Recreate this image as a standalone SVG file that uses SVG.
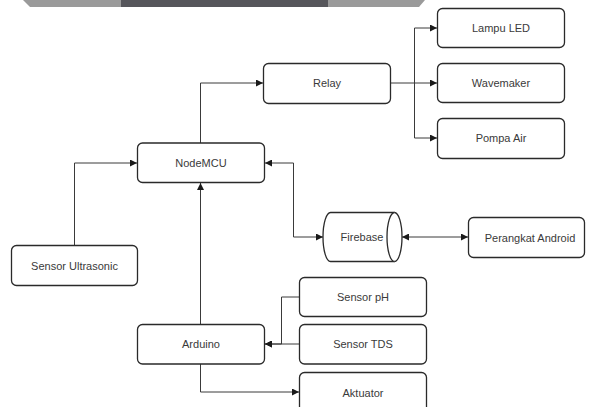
<svg xmlns="http://www.w3.org/2000/svg" width="589" height="407" viewBox="0 0 589 407">
<style>
.box{fill:#fff;stroke:#2a2a2a;stroke-width:1.3}
.lbl{font-family:"Liberation Sans",Arial,sans-serif;font-size:11px;fill:#3a3a3a;text-anchor:middle;dominant-baseline:central}
.con{fill:none;stroke:#3a3a3a;stroke-width:1}
</style>
<defs>
<marker id="arr" viewBox="0 0 7 7" refX="7" refY="3.5" markerWidth="7" markerHeight="7" markerUnits="userSpaceOnUse" orient="auto-start-reverse">
<path d="M0,0 L7,3.5 L0,7 Z" fill="#1a1a1a"/>
</marker>
</defs>
<g id="banner">
<polygon points="23,0 425,0 419,7 30,7" fill="#9a9a9a"/>
<rect x="121" y="0" width="207" height="7" fill="#56565b"/>
</g>
<g id="connectors">
<path class="con" d="M200.5 143 V83 H263" marker-end="url(#arr)"/>
<path class="con" d="M390.5 83 H437" marker-end="url(#arr)"/>
<path class="con" d="M414.5 83 V28 H437" marker-end="url(#arr)"/>
<path class="con" d="M414.5 83 V138 H437" marker-end="url(#arr)"/>
<path class="con" d="M74.5 245 V163 H137" marker-end="url(#arr)"/>
<path class="con" d="M323 237 H293.5 V163 H265" marker-start="url(#arr)" marker-end="url(#arr)"/>
<path class="con" d="M402 237 H468" marker-start="url(#arr)" marker-end="url(#arr)"/>
<path class="con" d="M200.5 324 V183" marker-end="url(#arr)"/>
<path class="con" d="M299 297 H281.5 V344 H265" marker-end="url(#arr)"/>
<path class="con" d="M299 344 H265" marker-end="url(#arr)"/>
<path class="con" d="M200.5 364 V392 H299" marker-end="url(#arr)"/>
</g>
<g id="lampu-led"><rect class="box" x="437.5" y="8.5" width="127" height="39" rx="5"/><text class="lbl" x="501" y="28">Lampu LED</text></g>
<g id="wavemaker"><rect class="box" x="437.5" y="63.5" width="127" height="39" rx="5"/><text class="lbl" x="501" y="83">Wavemaker</text></g>
<g id="pompa-air"><rect class="box" x="437.5" y="118.5" width="127" height="40" rx="5"/><text class="lbl" x="501" y="138">Pompa Air</text></g>
<g id="relay"><rect class="box" x="263.5" y="63.5" width="127" height="40" rx="5"/><text class="lbl" x="327" y="83">Relay</text></g>
<g id="nodemcu"><rect class="box" x="137.5" y="143" width="127" height="39.5" rx="5"/><text class="lbl" x="201" y="163">NodeMCU</text></g>
<g id="sensor-ultrasonic"><rect class="box" x="11.5" y="245.5" width="126" height="40" rx="5"/><text class="lbl" x="74.5" y="265.5">Sensor Ultrasonic</text></g>
<g id="firebase">
<path class="box" d="M330.5 212.5 L394.5 212.5 A7.5 24.5 0 0 1 394.5 261.5 L330.5 261.5 A7.5 24.5 0 0 1 330.5 212.5 Z"/>
<path class="box" fill="none" d="M394.5 212.5 A7.5 24.5 0 0 0 394.5 261.5"/>
<text class="lbl" x="362" y="237">Firebase</text>
</g>
<g id="perangkat-android"><rect class="box" x="468.5" y="217.5" width="116" height="40" rx="5"/><text class="lbl" x="530" y="237.5">Perangkat Android</text></g>
<g id="sensor-ph"><rect class="box" x="299.5" y="277.5" width="127" height="39" rx="5"/><text class="lbl" x="363" y="297">Sensor pH</text></g>
<g id="sensor-tds"><rect class="box" x="299.5" y="324.5" width="127" height="39.5" rx="5"/><text class="lbl" x="363" y="344">Sensor TDS</text></g>
<g id="arduino"><rect class="box" x="137.5" y="324.5" width="127" height="39.5" rx="5"/><text class="lbl" x="201" y="344">Arduino</text></g>
<g id="aktuator"><rect class="box" x="299.5" y="372.5" width="127" height="40" rx="5"/><text class="lbl" x="363" y="393">Aktuator</text></g>
</svg>
